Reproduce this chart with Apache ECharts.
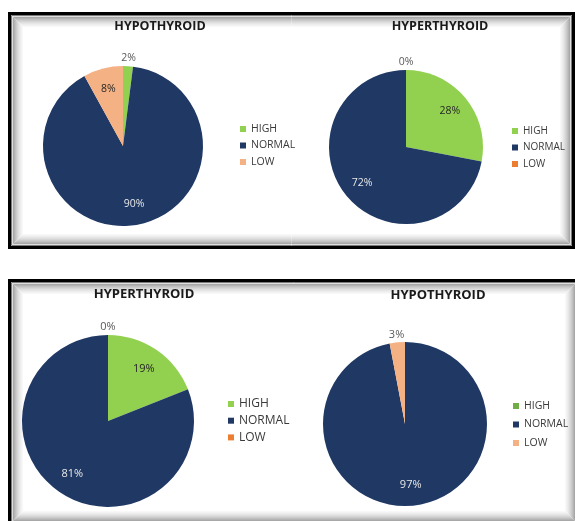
<!DOCTYPE html>
<html><head><meta charset="utf-8">
<script src="https://cdn.jsdelivr.net/npm/echarts@6/dist/echarts.min.js"></script>
<style>html,body{margin:0;padding:0;background:#fff}#c{width:575px;height:521px}</style>
</head><body><div id="c"></div>
<script>
// ---- data ----
const categories = ['HIGH', 'NORMAL', 'LOW'];
const chartTitles = ['HYPOTHYROID', 'HYPERTHYROID', 'HYPERTHYROID', 'HYPOTHYROID'];
const hypoTopValues = [2, 90, 8];
const hyperTopValues = [28, 72, 0];
const hyperBottomValues = [19, 81, 0];
const hypoBottomValues = [0, 97, 3];
const seriesValues = [hypoTopValues, hyperTopValues, hyperBottomValues, hypoBottomValues];
const hiddenLabels = [[], [], [], ['HIGH']];

// ---- styling / layout ----
const palettes = [
  ['#92d050', '#1f3864', '#f4b183'],
  ['#92d050', '#1f3864', '#ed7d31'],
  ['#92d050', '#1f3864', '#ed7d31'],
  ['#70ad47', '#1f3864', '#f4b183']
];
const layouts = [
  {cx: 123, cy: 146, r: 80, tx: 160, ty: 20, tfs: 12.5, lx: 240, ly: 123, lfs: 10.5, lh: 12, gap: 4.5, fs: 10.5},
  {cx: 406, cy: 147, r: 77, tx: 440, ty: 20, tfs: 12.5, lx: 512, ly: 125, lfs: 10, lh: 12, gap: 4.5, fs: 10.5},
  {cx: 108, cy: 421, r: 86, tx: 144, ty: 288, tfs: 13, lx: 228, ly: 397, lfs: 12, lh: 14, gap: 2.7, fs: 11},
  {cx: 405, cy: 424, r: 82, tx: 438, ty: 289, tfs: 13, lx: 513, ly: 400, lfs: 10.5, lh: 12, gap: 6.5, fs: 11}
];
const FONT = '"Open Sans", "Liberation Sans", sans-serif';

function labelColor(ci, idx, v) {
  if (v < 5) return '#595959';
  if (categories[idx] === 'NORMAL') return '#e8e8e8';
  return '#262626';
}

const series = seriesValues.map(function (vals, ci) {
  const L = layouts[ci];
  return {
    type: 'pie',
    center: [L.cx, L.cy],
    radius: [0, L.r],
    startAngle: 90,
    clockwise: true,
    avoidLabelOverlap: false,
    animation: false,
    silent: true,
    itemStyle: {borderWidth: 0},
    label: {show: true, position: 'inside', formatter: '{d}%', fontFamily: FONT, fontSize: L.fs},
    labelLine: {show: false},
    emphasis: {disabled: true},
    labelLayout: function (p) {
      const v = seriesValues[p.seriesIndex][p.dataIndex];
      const LL = layouts[p.seriesIndex];
      const lx = p.labelRect.x + p.labelRect.width / 2;
      const ly = p.labelRect.y + p.labelRect.height / 2;
      let dx = lx - LL.cx, dy = ly - LL.cy;
      const d = Math.hypot(dx, dy) || 1;
      dx /= d; dy /= d;
      const dist = v < 5 ? LL.r + 8 : LL.r * 0.74;
      return {x: LL.cx + dx * dist, y: LL.cy + dy * dist, align: 'center', verticalAlign: 'middle'};
    },
    data: categories.map(function (name, i) {
      return {
        name: name,
        value: vals[i],
        itemStyle: {color: palettes[ci][i]},
        label: {show: hiddenLabels[ci].indexOf(name) < 0, color: labelColor(ci, i, vals[i])}
      };
    })
  };
});

const titles = chartTitles.map(function (t, ci) {
  const L = layouts[ci];
  return {
    text: t, left: L.tx, top: L.ty, textAlign: 'center', padding: 0,
    textStyle: {fontFamily: FONT, fontWeight: 'bold', fontSize: L.tfs, color: '#1a1a1a'}
  };
});

const legends = layouts.map(function (L, ci) {
  return {
    orient: 'vertical', left: L.lx, top: L.ly, padding: 0, itemGap: L.gap,
    itemWidth: 6, itemHeight: 6, icon: 'rect', selectedMode: false,
    textStyle: {fontFamily: FONT, fontSize: L.lfs, color: '#3a3a3a', lineHeight: L.lh},
    data: categories.map(function (name, i) {
      return {name: name, itemStyle: {color: palettes[ci][i]}};
    })
  };
});

// decorative panel frames
const shade = ['#7a7a7a', '#dedede', '#a8a8a8', '#b4b4b4', '#c0c0c0', '#cbcbcb', '#d5d5d5', '#dedede', '#e6e6e6', '#ededed', '#f3f3f3', '#f8f8f8'];
function frame(x0, y0, x1, y1) {
  const els = [{type: 'rect', z: -10, shape: {x: x0, y: y0, width: x1 - x0, height: y1 - y0}, style: {fill: '#fff', stroke: null}}];
  shade.forEach(function (c, k) {
    const ins = 3 + k + 0.5;
    els.push({type: 'rect', z: -9, shape: {x: x0 + ins, y: y0 + ins, width: x1 - x0 - 2 * ins, height: y1 - y0 - 2 * ins},
      style: {fill: null, stroke: c, lineWidth: 1}});
  });
  els.push({type: 'rect', z: -8, shape: {x: x0 + 1.5, y: y0 + 1.5, width: x1 - x0 - 3, height: y1 - y0 - 3},
    style: {fill: null, stroke: '#000', lineWidth: 3}});
  return els;
}
const graphics = frame(8, 12, 575, 249).concat(frame(8, 279, 580, 526));

const chart = echarts.init(document.getElementById('c'), null, {renderer: 'canvas'});
chart.setOption({
  backgroundColor: '#ffffff',
  animation: false,
  title: titles,
  legend: legends,
  graphic: graphics,
  series: series
});
</script></body></html>
